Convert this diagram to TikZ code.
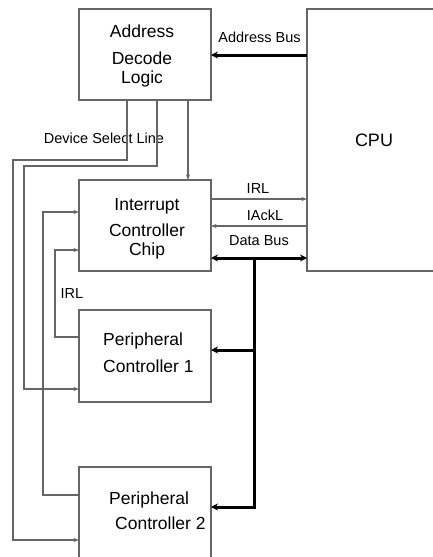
\documentclass[tikz,border=0pt]{standalone}
\usepackage{fontspec}
\setmainfont{Liberation Sans}
\usetikzlibrary{arrows.meta}
\begin{document}
\begin{tikzpicture}[x=1pt,y=-1pt]
\tikzset{
 box/.style={draw=black!60, line width=1.2pt, inner sep=0pt, outer sep=0pt, rectangle},
 boxtext/.style={font=\fontsize{17.5}{26.5}\selectfont, inner sep=0pt, text=black},
 lbl/.style={font=\fontsize{14.5}{17}\selectfont, inner sep=0pt, anchor=base, text=black},
 wire/.style={draw=black!60, line width=1.2pt},
 bus/.style={draw=black, line width=3pt},
 arr/.style={-{Stealth[length=5.5pt,width=4pt]}},
 barr/.style={-{Stealth[length=7pt,width=7pt]}},
 dbarr/.style={{Stealth[length=7pt,width=7pt]}-{Stealth[length=7pt,width=7pt]}},
}
\useasboundingbox[fill=white] (0,0) rectangle (432,557);

% boxes
\node[box, minimum width=132pt, minimum height=91pt] (adl) at (145,54.5) {};
\node[box, minimum width=133pt, minimum height=262pt] (cpu) at (373.5,140) {};
\node[box, minimum width=132pt, minimum height=91pt] (icc) at (145,225.5) {};
\node[box, minimum width=132pt, minimum height=92pt] (pc1) at (145,356) {};
\node[box, minimum width=132pt, minimum height=98pt] (pc2) at (145,516) {};

% box texts
\node[boxtext, anchor=north, align=center] (adlt) at (142,25) {Address\\Decode\\[-7.5pt]Logic};
\node[boxtext, anchor=north, align=center] (icct) at (147,198) {Interrupt\\Controller\\[-7.5pt]Chip};
\node[boxtext, anchor=north west, align=left] (pc1t) at (103,333) {Peripheral\\Controller 1};
\node[boxtext, anchor=north west, align=left] (pc2t) at (109,492) {Peripheral\\[-1.5pt]\hspace*{6pt}Controller 2};
\node[boxtext, font=\fontsize{18}{20}\selectfont] (cput) at (374,140) {CPU};

% labels
\node[lbl] (labus) at (259.5,42) {Address Bus};
\node[lbl] (ldsl) at (104,143) {Device Select Line};
\node[lbl] (lirl) at (258,193) {IRL};
\node[lbl] (liack) at (265,220) {IAckL};
\node[lbl] (ldbus) at (259,245) {Data Bus};
\node[lbl] (lirl2) at (72,298) {IRL};

% bend coordinates
\coordinate (c1) at (13,160);
\coordinate (c2) at (24,166);
\coordinate (c3) at (43,212);
\coordinate (c4) at (55,250);
\coordinate (dbj) at (254,258);
\coordinate (j1) at (254,350);

% address bus
\draw[bus,barr] (cpu.west |- 0,55) -- (adl.east |- 0,55);

% device select lines
\draw[wire,arr] (adl.south -| 127,0) |- (c1) |- (pc2.west |- 0,540);
\draw[wire,arr] (adl.south -| 157,0) |- (c2) |- (pc1.west |- 0,389);
\draw[wire,arr] (adl.south -| 188,0) -- (icc.north -| 188,0);

% ICC <-> CPU
\draw[wire,arr] (icc.east |- 0,199) -- (cpu.west |- 0,199);
\draw[wire,arr] (cpu.west |- 0,226) -- (icc.east |- 0,226);
\draw[bus,dbarr] (icc.east |- dbj) -- (cpu.west |- dbj);

% data bus to peripherals
\draw[bus,barr] (dbj) |- (pc2.east |- 0,507);
\draw[bus,barr] (j1) -- (pc1.east |- j1);

% IRL from peripherals
\draw[wire,arr] (pc1.west |- 0,337) -| (c4) -- (icc.west |- c4);
\draw[wire,arr] (pc2.west |- 0,495) -| (c3) -- (icc.west |- c3);
\end{tikzpicture}
\end{document}
